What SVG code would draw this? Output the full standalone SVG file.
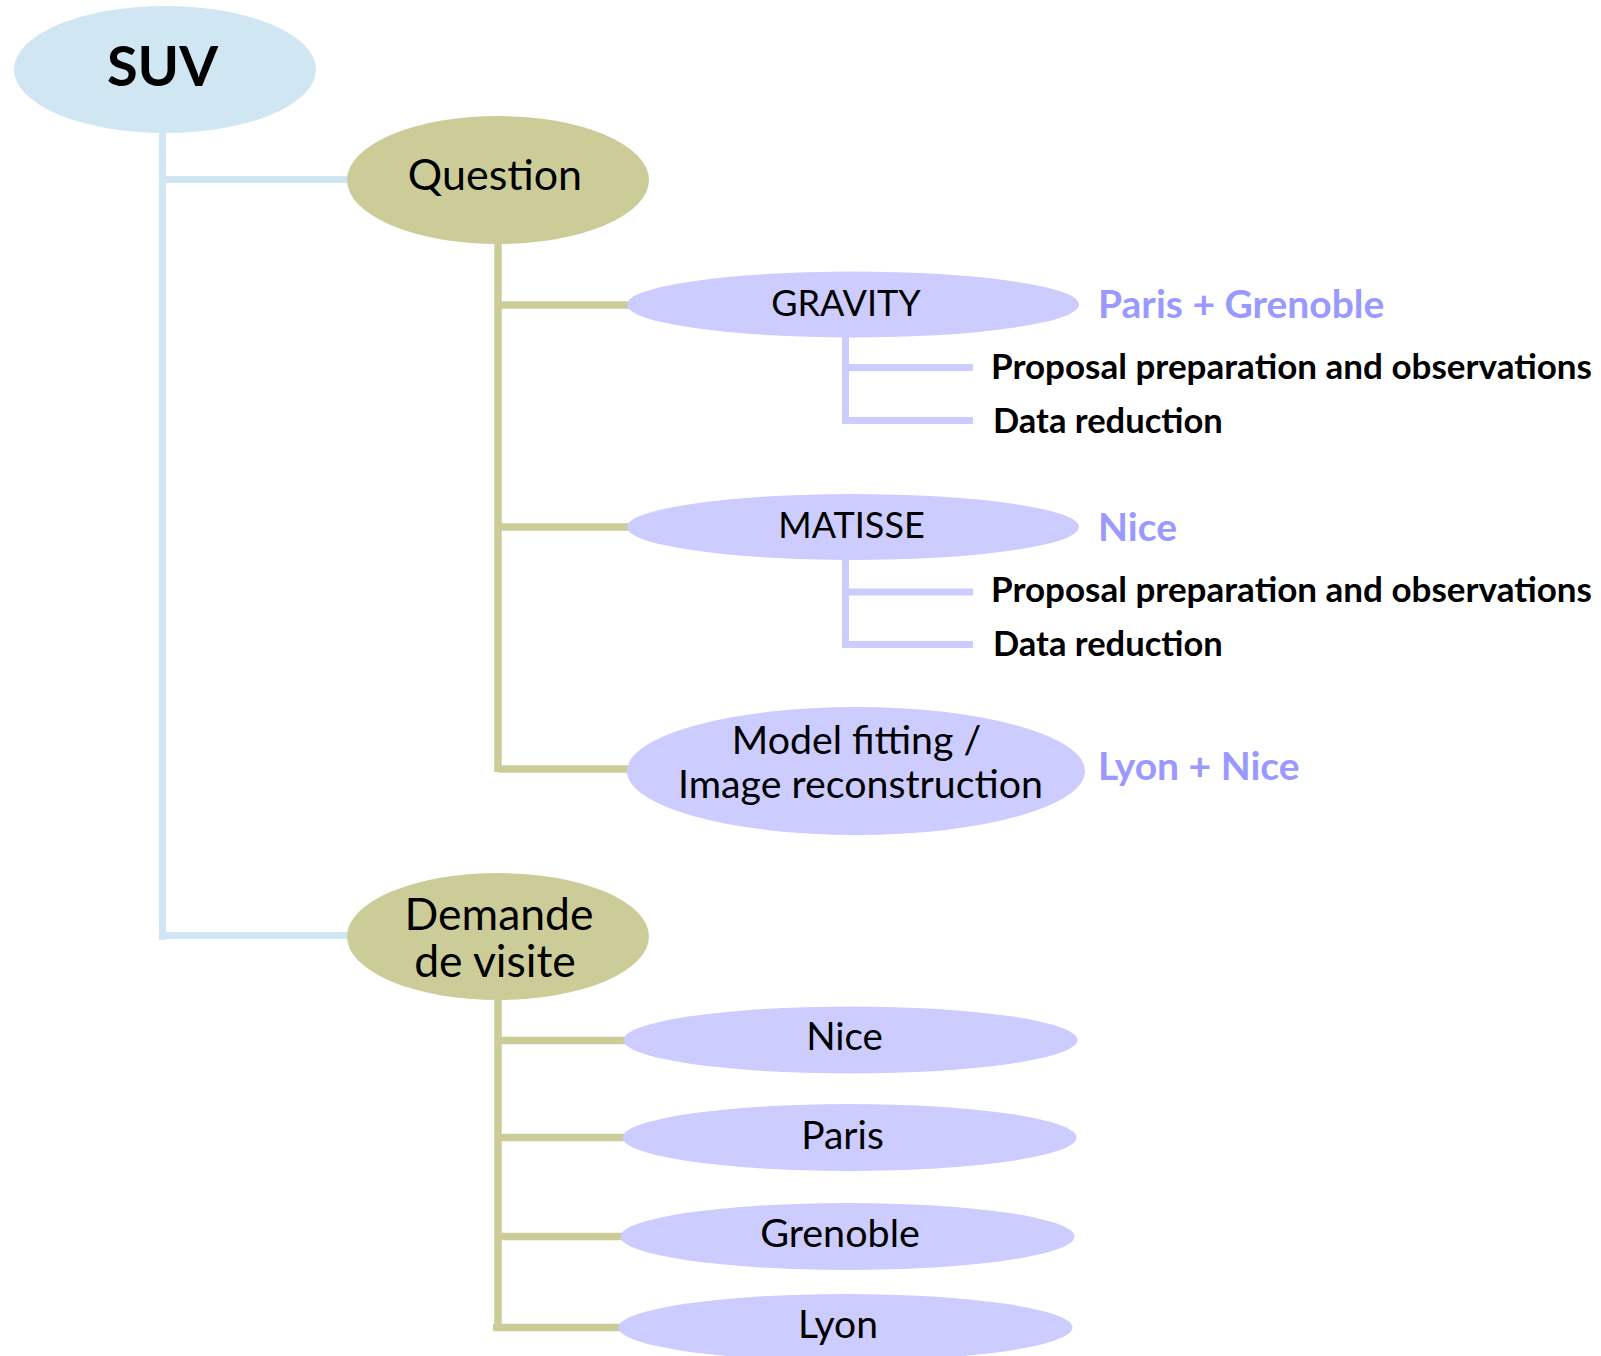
<svg xmlns="http://www.w3.org/2000/svg" width="1601" height="1356" viewBox="0 0 1601 1356">
<style>
  .t { font-family: Lato, "Liberation Sans", sans-serif; fill: #000; text-anchor: middle; }
  .lbl { font-family: Lato, "Liberation Sans", sans-serif; fill: #9999ff; font-weight: bold; font-size: 39px; }
  .sub { font-family: Lato, "Liberation Sans", sans-serif; fill: #000; font-weight: bold; font-size: 34.5px; }
  .blue { fill: #d0e6f3; }
  .olive { fill: #cccc99; }
  .lav { fill: #ccccff; }
  .cb { stroke: #d0e6f3; stroke-width: 7; fill: none; }
  .co { stroke: #cccc99; stroke-width: 7.5; fill: none; }
  .cl { stroke: #ccccff; stroke-width: 7; fill: none; }
</style>
<rect width="1601" height="1356" fill="#fff"/>
<g id="connectors">
  <path class="cb" d="M162.5 133 V940 M162.5 179.5 H350 M162.5 935.5 H350"/>
  <path class="co" d="M498 244 V772 M498 305 H630 M498 527 H630 M498 769 H630"/>
  <path class="co" d="M498 1000 V1331 M498 1040.5 H626 M498 1137.5 H626 M498 1236.5 H624 M493 1327.5 H622"/>
  <path class="cl" d="M845.5 337 V424 M845.5 367.5 H973 M842 420.5 H973"/>
  <path class="cl" d="M845.5 559 V648 M845.5 592 H973 M842 644.5 H973"/>
</g>
<g id="n-suv">
  <ellipse class="blue" cx="165" cy="69.5" rx="151" ry="63.5"/>
  <text class="t" x="162.5" y="86" font-size="56" font-weight="bold">SUV</text>
</g>
<g id="n-question">
  <ellipse class="olive" cx="498" cy="180" rx="151" ry="64"/>
  <text class="t" x="495" y="190" font-size="43">Question</text>
</g>
<g id="n-gravity">
  <ellipse class="lav" cx="853" cy="304.5" rx="226" ry="33"/>
  <text class="t" x="846" y="316" font-size="36">GRAVITY</text>
</g>
<g id="n-gravity-site"><text class="lbl" x="1098" y="318">Paris + Grenoble</text></g>
<g id="n-gravity-1"><text class="sub" x="991" y="379" textLength="601" lengthAdjust="spacingAndGlyphs">Proposal preparation and observations</text></g>
<g id="n-gravity-2"><text class="sub" x="993" y="433">Data reduction</text></g>
<g id="n-matisse">
  <ellipse class="lav" cx="853" cy="527" rx="226" ry="33"/>
  <text class="t" x="851.5" y="538" font-size="36">MATISSE</text>
</g>
<g id="n-matisse-site"><text class="lbl" x="1098" y="541">Nice</text></g>
<g id="n-matisse-1"><text class="sub" x="991" y="602" textLength="601" lengthAdjust="spacingAndGlyphs">Proposal preparation and observations</text></g>
<g id="n-matisse-2"><text class="sub" x="993" y="656">Data reduction</text></g>
<g id="n-model">
  <ellipse class="lav" cx="856" cy="771" rx="229" ry="64"/>
  <text class="t" x="856.5" y="754" font-size="39.3">Model fitting /</text>
  <text class="t" x="860.5" y="798" font-size="39.3">Image reconstruction</text>
</g>
<g id="n-model-site"><text class="lbl" x="1098" y="780">Lyon + Nice</text></g>
<g id="n-demande">
  <ellipse class="olive" cx="498" cy="936.5" rx="151" ry="63.5"/>
  <text class="t" x="499" y="930" font-size="44.5">Demande</text>
  <text class="t" x="495" y="977" font-size="44.5">de visite</text>
</g>
<g id="n-nice">
  <ellipse class="lav" cx="850.5" cy="1040" rx="227" ry="33.5"/>
  <text class="t" x="844.5" y="1050" font-size="38.5">Nice</text>
</g>
<g id="n-paris">
  <ellipse class="lav" cx="849.5" cy="1137.5" rx="227" ry="33.5"/>
  <text class="t" x="842.5" y="1149" font-size="39">Paris</text>
</g>
<g id="n-grenoble">
  <ellipse class="lav" cx="847.5" cy="1236.5" rx="227" ry="33.5"/>
  <text class="t" x="840" y="1247" font-size="39.5">Grenoble</text>
</g>
<g id="n-lyon">
  <ellipse class="lav" cx="845.5" cy="1327.5" rx="227" ry="33.5"/>
  <text class="t" x="838" y="1338" font-size="39">Lyon</text>
</g>
</svg>
